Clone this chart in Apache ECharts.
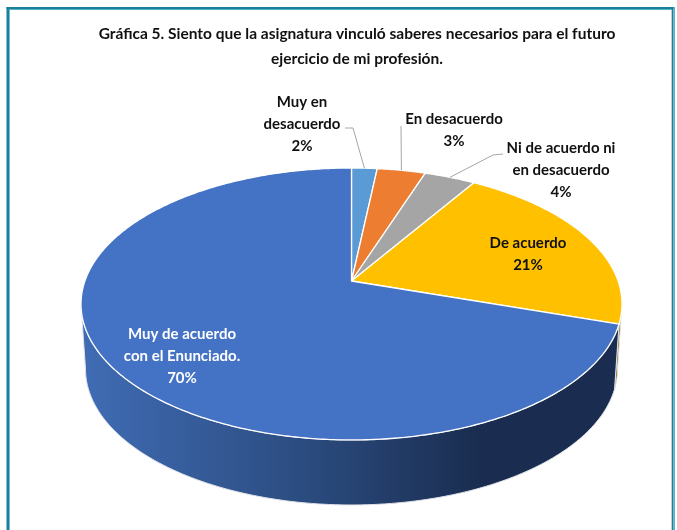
<!DOCTYPE html>
<html><head><meta charset="utf-8">
<style>html,body{margin:0;padding:0;background:#fff}#c{width:677px;height:530px}</style>
<script src="https://cdn.jsdelivr.net/npm/echarts@6/dist/echarts.min.js"></script>
</head><body><div id="c"></div>
<script>
const titleText = 'Gráfica 5. Siento que la asignatura vinculó saberes necesarios para el futuro\nejercicio de mi profesión.';
const categories = ['Muy en\ndesacuerdo', 'En desacuerdo', 'Ni de acuerdo ni\nen desacuerdo', 'De acuerdo', 'Muy de acuerdo\ncon el Enunciado.'];
const values = [1.8, 3.4, 3.6, 21.2, 70];
const colors = ['#5b9bd5', '#ed7d31', '#a5a5a5', '#ffc000', '#4472c4'];
// label layout: centre of the text block, text colour, leader-line start points
const labelCentres = [[302,124],[454,130],[561,170],[528,254],[182,356]];
const labelColors = ['#111111','#111111','#111111','#111111','#ffffff'];
const leaders = [[[345,128],[353,128]],[[401,126]],[[503,154],[493,155]],null,null];

// perspective projection of the pie disc
const FONT = 'Lato, "Open Sans", sans-serif';
const apex = [351.5, 281], A = 132.1, C = -0.169, W = 266.6, DEPTH = 65, LOWER = 266 / 270.5;
const total = values.reduce((a, b) => a + b, 0);
const FRONT = [Math.acos(C) , 2 * Math.PI - Math.acos(C)]; // where the rim turns to the viewer
function rim(phi) {
  const u = Math.sin(phi), v = -Math.cos(phi), d = 1 + C * v;
  return [apex[0] + W * u / d, apex[1] + A * v / d];
}
function lower(p) { return [apex[0] + (p[0] - apex[0]) * LOWER, p[1] + DEPTH]; }
function arc(a, b) {
  const n = Math.max(2, Math.ceil((b - a) * 90)), pts = [];
  for (let i = 0; i <= n; i++) pts.push(rim(a + (b - a) * i / n));
  return pts;
}
const wallFill = i => i === 3 ? '#7f6000' : new echarts.graphic.LinearGradient(85, 0, 480, 0, [
  { offset: 0, color: '#406cb4' }, { offset: 0.55, color: '#2b4c80' }, { offset: 1, color: '#1a2d50' }
], true);

function renderItem(params, api) {
  const i = params.dataIndex;
  let before = 0;
  for (let k = 0; k < i; k++) before += values[k];
  const a0 = before / total * 2 * Math.PI, a1 = (before + api.value(0)) / total * 2 * Math.PI;
  const children = [];
  const w0 = Math.max(a0, FRONT[0]), w1 = Math.min(a1, FRONT[1]);
  if (w1 > w0) {
    const t = arc(w0, w1);
    children.push({ type: 'polygon', z2: 1, shape: { points: t.concat(t.map(lower).reverse()) },
      style: { fill: wallFill(i), stroke: '#dfe2e8', lineWidth: 1 } });
  }
  children.push({ type: 'polygon', z2: 2, shape: { points: [apex].concat(arc(a0, a1)) },
    style: { fill: colors[i], stroke: '#ffffff', lineWidth: 1.3, lineJoin: 'round' } });
  if (leaders[i]) {
    children.push({ type: 'polyline', z2: 3, shape: { points: leaders[i].concat([rim((a0 + a1) / 2)]) },
      style: { fill: 'none', stroke: '#a6a6a6', lineWidth: 1 } });
  }
  children.push({ type: 'text', z2: 4, x: labelCentres[i][0], y: labelCentres[i][1], style: {
    text: categories[i] + '\n' + Math.round(api.value(0)) + '%',
    fill: labelColors[i], font: 'bold 15px ' + FONT, lineHeight: 22, align: 'center', verticalAlign: 'middle' } });
  return { type: 'group', children };
}

const frame = [
  [6.5, 7, 667.5, 2, '#1c7f99'], [9, 9, 663, 1, '#56b3cc'],
  [6.5, 7, 2.5, 523, '#1c7f99'], [9, 10, 1, 520, '#6cc0d8'],
  [672, 9, 1.5, 521, '#1c7f99'], [673.5, 7, 1.5, 523, '#56b3cc'], [671, 10, 1, 520, '#c9ccd0']
];

const chart = echarts.init(document.getElementById('c'));
chart.setOption({
  animation: false,
  backgroundColor: '#ffffff',
  title: { text: titleText, left: 352, top: 16, textAlign: 'center',
    textStyle: { fontFamily: FONT, fontWeight: 'bold', fontSize: 15.5, color: '#111111', lineHeight: 25 } },
  graphic: frame.map(f => ({ type: 'rect', shape: { x: f[0], y: f[1], width: f[2], height: f[3] }, style: { fill: f[4] } })),
  series: [{ type: 'custom', coordinateSystem: 'none', renderItem,
    data: values.map((v, i) => ({ name: categories[i], value: [v] })) }]
});
</script></body></html>
